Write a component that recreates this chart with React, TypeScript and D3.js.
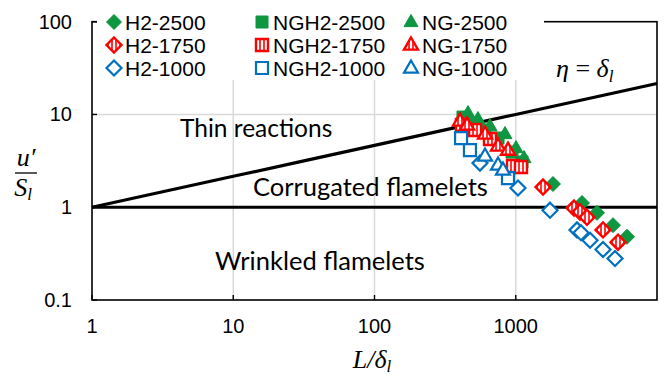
import React from 'react';
import * as d3 from 'd3';

// ---- data (L/δl , u'/Sl) ----
const H2_2500_X = [1835, 2944, 3760, 4881, 6133];
const H2_2500_Y = [1.78, 1.11, 0.87, 0.64, 0.48];
const NGH2_2500_X = [423, 506, 606, 749, 941, 1107];
const NGH2_2500_Y = [9.38, 7.88, 6.79, 5.57, 3.93, 3.07];
const NG_2500_X = [459, 540, 657, 839, 1004, 1144];
const NG_2500_Y = [10.35, 8.92, 7.5, 6.15, 4.34, 3.39];

const H2_1750_X = [1560, 2585, 2850, 3194, 4147, 5294];
const H2_1750_Y = [1.65, 0.98, 0.89, 0.78, 0.57, 0.42];
const NGH2_1750_X = [416, 515, 657, 956, 1089];
const NGH2_1750_Y = [7.69, 6.79, 5.43, 2.78, 2.71];
const NG_1750_X = [403, 452, 606, 749, 881];
const NG_1750_Y = [8.49, 7.69, 6.15, 4.57, 4.13];

const H2_1000_X = [558, 1037, 1748, 2714, 2897, 3356, 4147, 5043];
const H2_1000_Y = [2.99, 1.61, 0.93, 0.57, 0.53, 0.44, 0.35, 0.28];
const NGH2_1000_X = [410, 474, 881];
const NGH2_1000_Y = [5.57, 4.13, 2.06];
const NG_1000_X = [606, 749, 812];
const NG_1000_Y = [3.56, 2.85, 2.52];

const X_TICKS = [1, 10, 100, 1000];
const Y_TICKS = [0.1, 1, 10, 100];
const X_DOMAIN = [1, 10000];
const Y_DOMAIN = [0.1, 100];

type Shape = 'diamond' | 'square' | 'triangle';
type Style = 'green' | 'red' | 'blue';

const SERIES: { name: string; xs: number[]; ys: number[]; shape: Shape; style: Style }[] = [
  { name: 'H2-2500', xs: H2_2500_X, ys: H2_2500_Y, shape: 'diamond', style: 'green' },
  { name: 'NGH2-2500', xs: NGH2_2500_X, ys: NGH2_2500_Y, shape: 'square', style: 'green' },
  { name: 'NG-2500', xs: NG_2500_X, ys: NG_2500_Y, shape: 'triangle', style: 'green' },
  { name: 'H2-1750', xs: H2_1750_X, ys: H2_1750_Y, shape: 'diamond', style: 'red' },
  { name: 'NGH2-1750', xs: NGH2_1750_X, ys: NGH2_1750_Y, shape: 'square', style: 'red' },
  { name: 'NG-1750', xs: NG_1750_X, ys: NG_1750_Y, shape: 'triangle', style: 'red' },
  { name: 'H2-1000', xs: H2_1000_X, ys: H2_1000_Y, shape: 'diamond', style: 'blue' },
  { name: 'NGH2-1000', xs: NGH2_1000_X, ys: NGH2_1000_Y, shape: 'square', style: 'blue' },
  { name: 'NG-1000', xs: NG_1000_X, ys: NG_1000_Y, shape: 'triangle', style: 'blue' },
];

const GREEN = '#0E9640';
const RED = '#FF0000';
const BLUE = '#0070C0';

function shapePath(shape: Shape): string {
  if (shape === 'diamond') {
    const r = 7.5;
    return `M0,${-r}L${r},0L0,${r}L${-r},0Z`;
  }
  if (shape === 'square') {
    const h = 6;
    return `M${-h},${-h}L${h},${-h}L${h},${h}L${-h},${h}Z`;
  }
  const s = 14;
  const hgt = (s * Math.sqrt(3)) / 2;
  return `M0,${-hgt * 0.62}L${s / 2},${hgt * 0.38}L${-s / 2},${hgt * 0.38}Z`;
}

function Marker({ shape, style, x, y }: { shape: Shape; style: Style; x: number; y: number }) {
  const d = shapePath(shape);
  if (style === 'green') {
    return <path d={d} transform={`translate(${x},${y})`} fill={GREEN} stroke={GREEN} strokeWidth={1} />;
  }
  if (style === 'blue') {
    return <path d={d} transform={`translate(${x},${y})`} fill="#fff" stroke={BLUE} strokeWidth={2.2} />;
  }
  return (
    <g transform={`translate(${x},${y})`}>
      <path d={d} fill="url(#redStripe)" stroke={RED} strokeWidth={2.4} />
    </g>
  );
}

export default function App() {
  const W = 664;
  const H = 378;
  const left = 92;
  const right = 657;
  const top = 21.7;
  const bottom = 300;

  const x = d3.scaleLog().domain(X_DOMAIN).range([left, right]);
  const y = d3.scaleLog().domain(Y_DOMAIN).range([bottom, top]);

  // boundary lines
  const etaX = d3.range(0, 4.01, 0.5).map((e) => Math.pow(10, e));
  const etaLine = d3
    .line<number>()
    .x((v) => x(v))
    .y((v) => y(Math.pow(v, 1 / 3)));
  const unityLine = d3
    .line<number>()
    .x((v) => x(v))
    .y(() => y(1));

  const legendCols = [114, 262, 411];
  const legendRows = [22, 45, 68];

  const sans = "'Liberation Sans', Arial, sans-serif";
  const serif = "'Liberation Serif', 'DejaVu Serif', serif";
  const label = "Lato, 'Open Sans', sans-serif";

  return (
    <svg
      width={W}
      height={H}
      style={{ position: 'absolute', left: 0, top: 0, background: '#fff' }}
      xmlns="http://www.w3.org/2000/svg"
    >
      <defs>
        <pattern id="redStripe" patternUnits="userSpaceOnUse" width="4" height="4">
          <rect x="0" y="0" width="4" height="4" fill="#fff" />
          <rect x="1.2" y="0" width="1.6" height="4" fill={RED} />
        </pattern>
      </defs>
      <rect x={0} y={0} width={W} height={H} fill="#fff" />

      {/* grid */}
      {X_TICKS.filter((t) => t > 1).map((t) => (
        <line key={'gx' + t} x1={x(t)} x2={x(t)} y1={top} y2={bottom} stroke="#D9D9D9" strokeWidth={1.5} />
      ))}
      {Y_TICKS.filter((t) => t > 0.1 && t < 100).map((t) => (
        <line key={'gy' + t} x1={left} x2={right} y1={y(t)} y2={y(t)} stroke="#D9D9D9" strokeWidth={1.5} />
      ))}

      {/* plot frame */}
      <rect x={left} y={top} width={right - left} height={bottom - top} fill="none" stroke="#000" strokeWidth={1.6} />
      {/* ticks */}
      {X_TICKS.map((t) => (
        <line key={'tx' + t} x1={x(t)} x2={x(t)} y1={bottom} y2={bottom - 5} stroke="#000" strokeWidth={1.4} />
      ))}
      {Y_TICKS.map((t) => (
        <line key={'ty' + t} x1={left} x2={left + 5} y1={y(t)} y2={y(t)} stroke="#000" strokeWidth={1.4} />
      ))}

      {/* regime lines */}
      <path d={etaLine(etaX) || ''} fill="none" stroke="#000" strokeWidth={3.2} />
      <path d={unityLine(etaX) || ''} fill="none" stroke="#000" strokeWidth={3.2} />

      {/* data */}
      {SERIES.map((s) => (
        <g key={s.name}>
          {s.xs.map((v, i) => (
            <Marker key={i} shape={s.shape} style={s.style} x={x(v)} y={y(s.ys[i])} />
          ))}
        </g>
      ))}

      {/* legend */}
      <rect x={97} y={4} width={447} height={76} fill="#fff" />
      {SERIES.map((s, i) => {
        const col = i % 3;
        const row = Math.floor(i / 3);
        const mx = legendCols[col];
        const my = legendRows[row];
        return (
          <g key={'lg' + s.name}>
            <Marker shape={s.shape} style={s.style} x={mx} y={my} />
            <text x={mx + 11} y={my + 7.5} fontFamily={sans} fontSize={21} fill="#000">
              {s.name}
            </text>
          </g>
        );
      })}

      {/* tick labels */}
      {X_TICKS.map((t) => (
        <text key={'lx' + t} x={x(t)} y={333} textAnchor="middle" fontFamily={sans} fontSize={20} fill="#000">
          {t}
        </text>
      ))}
      {Y_TICKS.map((t) => (
        <text key={'ly' + t} x={72} y={y(t) + 7} textAnchor="end" fontFamily={sans} fontSize={20} fill="#000">
          {t}
        </text>
      ))}

      {/* regime labels */}
      <text x={180} y={137} fontFamily={label} fontSize={24.5} fill="#000">Thin reactions</text>
      <text x={253} y={196} fontFamily={label} fontSize={25.5} fill="#000">Corrugated flamelets</text>
      <text x={215} y={270} fontFamily={label} fontSize={25.5} fill="#000">Wrinkled flamelets</text>

      {/* eta label */}
      <text x={556} y={77} fontFamily={serif} fontSize={26} fill="#000">
        <tspan fontStyle="italic">η</tspan>
        <tspan> = </tspan>
        <tspan fontStyle="italic">δ</tspan>
        <tspan fontStyle="italic" fontSize={17} dy={5}>l</tspan>
      </text>

      {/* y axis label */}
      <text x={26} y={166} textAnchor="middle" fontFamily={serif} fontStyle="italic" fontSize={26} fill="#000">
        u′
      </text>
      <line x1={15} x2={37} y1={173} y2={173} stroke="#000" strokeWidth={1.3} />
      <text x={23} y={196} textAnchor="middle" fontFamily={serif} fontStyle="italic" fontSize={26} fill="#000">
        S<tspan fontSize={17} dy={4}>l</tspan>
      </text>

      {/* x axis label */}
      <text x={372} y={368} textAnchor="middle" fontFamily={serif} fontStyle="italic" fontSize={26} fill="#000">
        L/δ<tspan fontSize={17} dy={4}>l</tspan>
      </text>
    </svg>
  );
}
